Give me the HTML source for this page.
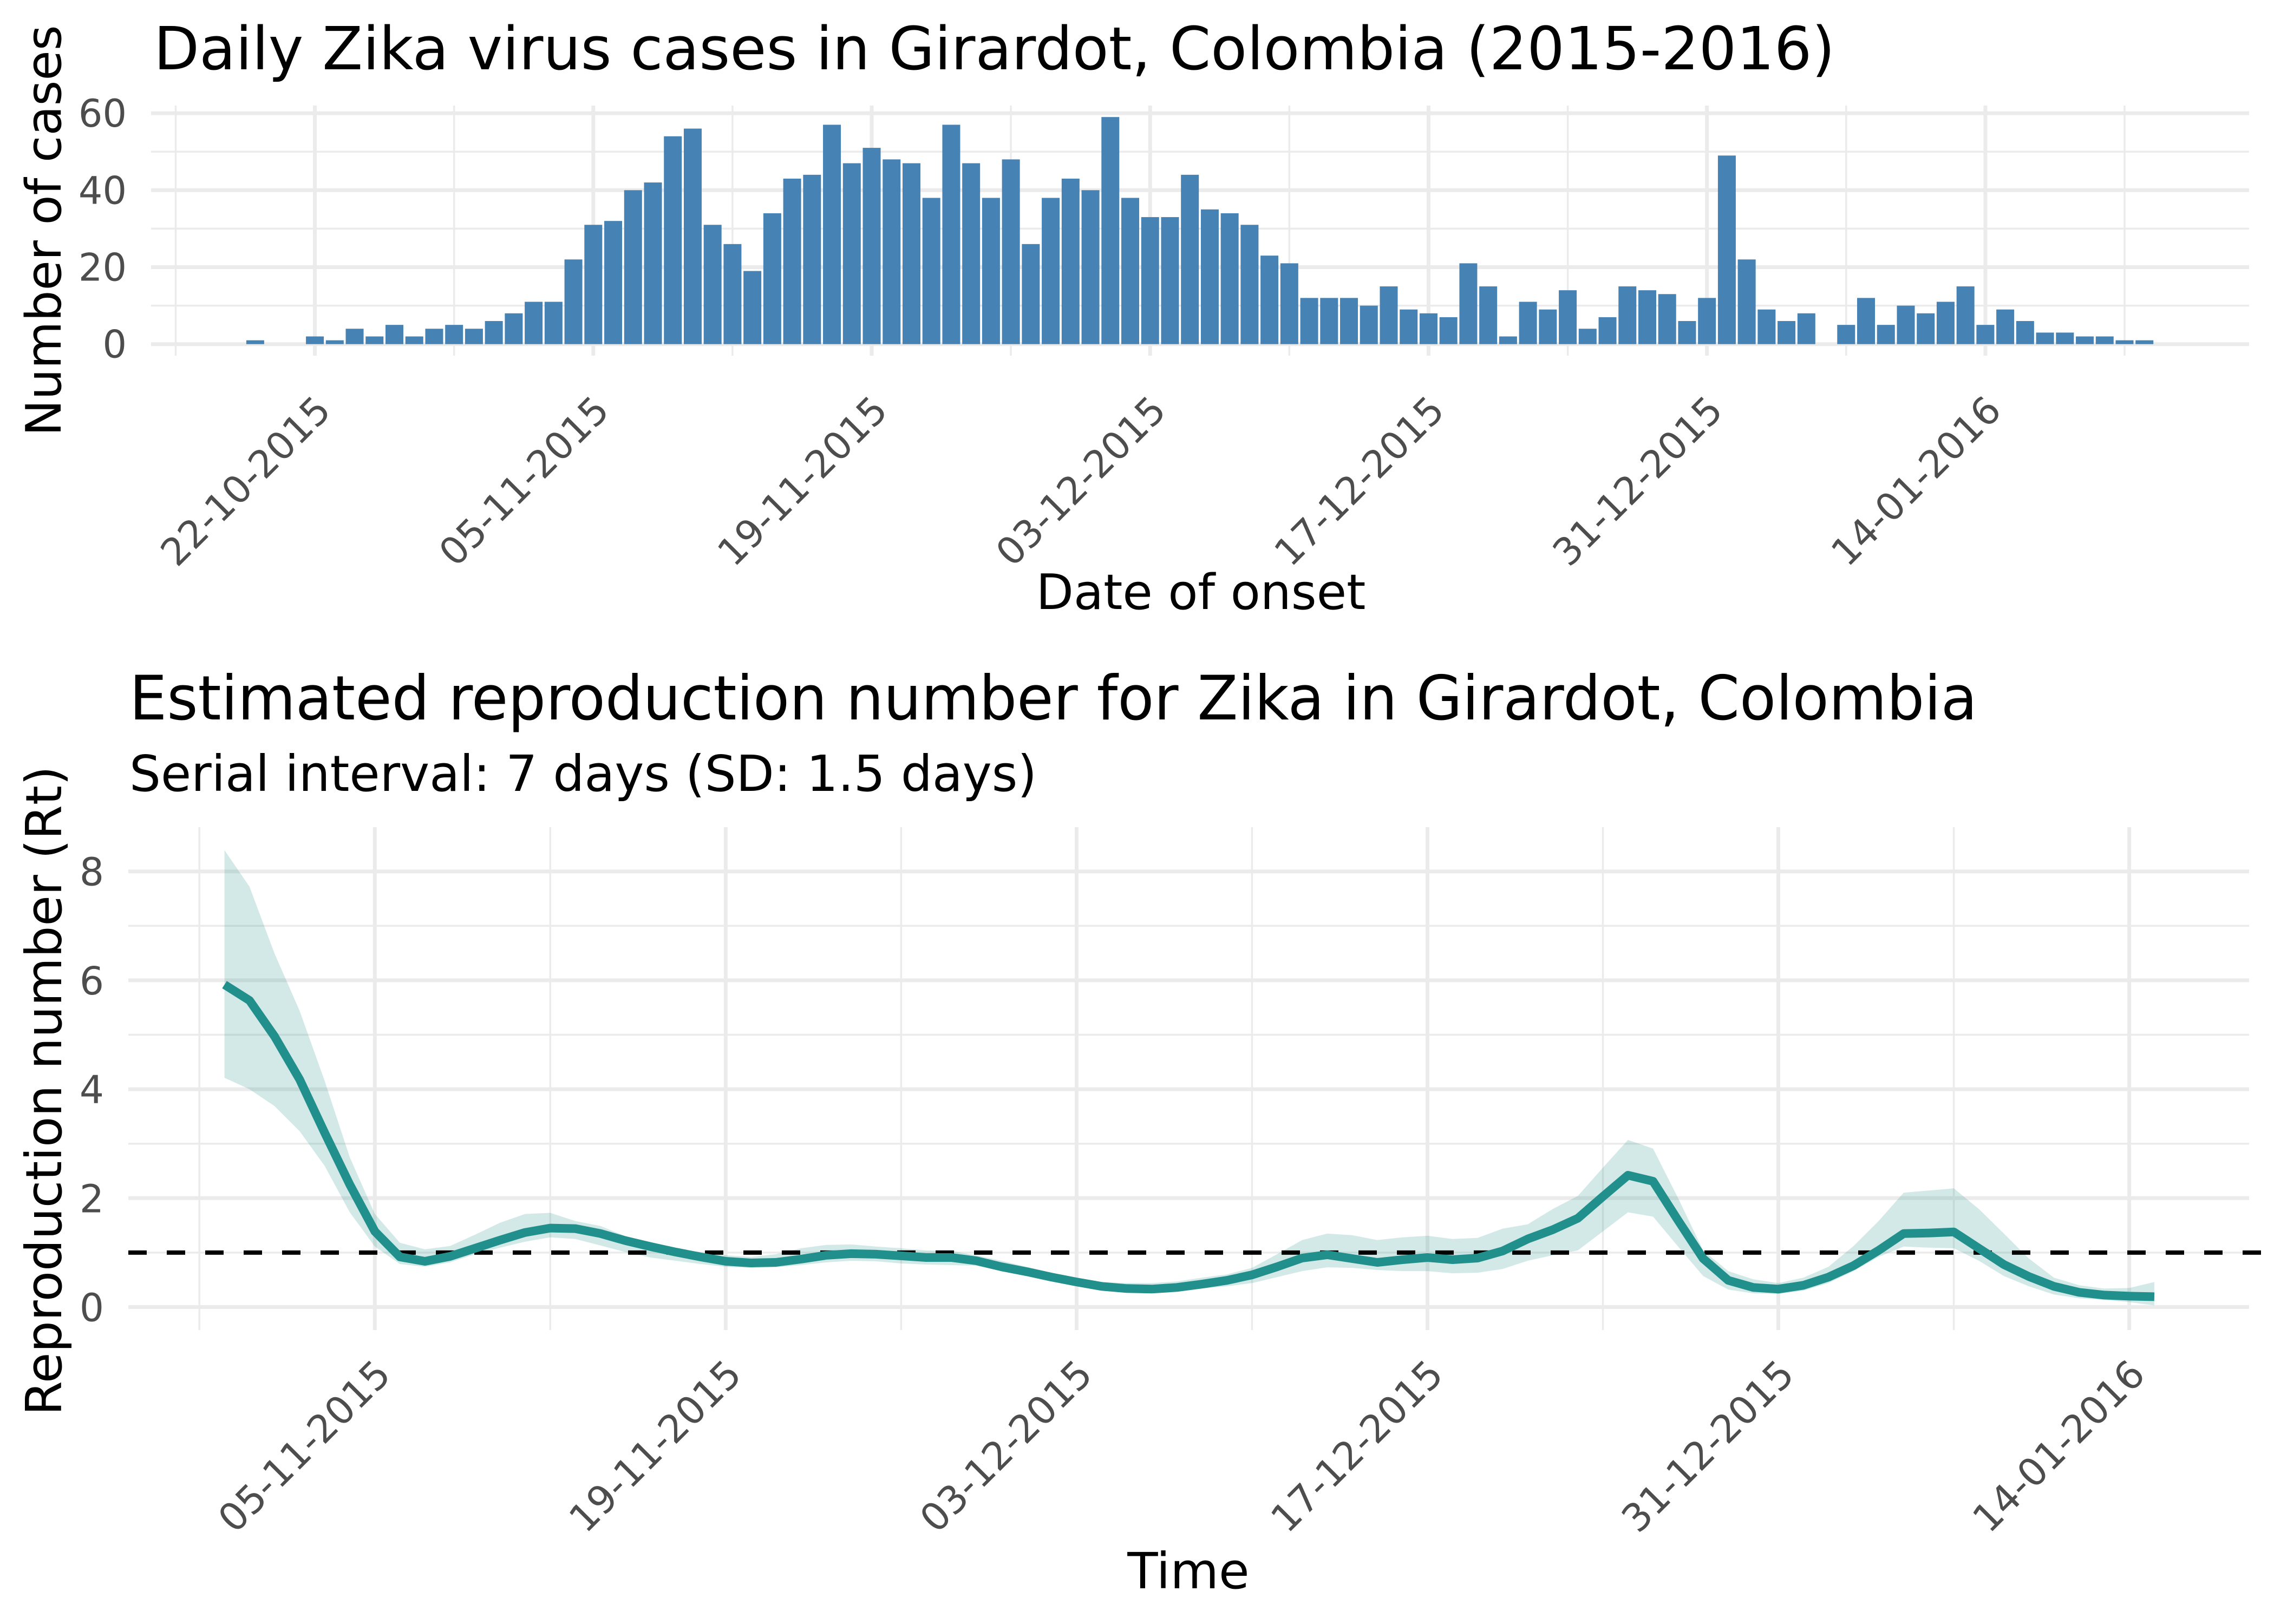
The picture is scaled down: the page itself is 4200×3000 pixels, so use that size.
<!DOCTYPE html>
<html><head><meta charset="utf-8">
<style>
html,body{margin:0;padding:0;background:#fff;}
svg{display:block;}
text{font-family:"DejaVu Sans","Liberation Sans",sans-serif;}
</style></head>
<body>
<svg id="chart" width="4200" height="3000" viewBox="0 0 4200 3000" xmlns="http://www.w3.org/2000/svg">
<rect width="4200" height="3000" fill="#fff"/>
<g id="top-grid"></g>
<g id="top-bars"></g>
<g id="top-axes"></g>
<g id="bot-grid"></g>
<g id="bot-marks"></g>
<g id="bot-axes"></g>
<text x="284" y="128" font-size="110" fill="#000" textLength="3105" lengthAdjust="spacingAndGlyphs">Daily Zika virus cases in Girardot, Colombia (2015-2016)</text>
<text transform="translate(112,426) rotate(-90)" text-anchor="middle" font-size="90" fill="#000">Number of cases</text>
<text x="2218" y="1125" text-anchor="middle" font-size="90" fill="#000">Date of onset</text>
<text x="239" y="1329" font-size="113" fill="#000" textLength="3413" lengthAdjust="spacingAndGlyphs">Estimated reproduction number for Zika in Girardot, Colombia</text>
<text x="239" y="1461" font-size="92" fill="#000" textLength="1676" lengthAdjust="spacingAndGlyphs">Serial interval: 7 days (SD: 1.5 days)</text>
<text transform="translate(113,2015) rotate(-90)" text-anchor="middle" font-size="92" fill="#000">Reproduction number (Rt)</text>
<text x="2195" y="2934" text-anchor="middle" font-size="92" fill="#000">Time</text>
</svg>
<script>
// ---- Cases data (daily from 19-10-2015) ----
const caseStartDate = "2015-10-19";
const caseCounts = [1,0,0,2,1,4,2,5,2,4,5,4,6,8,11,11,22,31,32,40,42,54,56,31,26,19,34,43,44,57,47,51,48,47,38,57,47,38,48,26,38,43,40,59,38,33,33,44,35,34,31,23,21,12,12,12,10,15,9,8,7,21,15,2,11,9,14,4,7,15,14,13,6,12,49,22,9,6,8,0,5,12,5,10,8,11,15,5,9,6,3,3,2,2,1,1];
const caseYTicks = [0,20,40,60];
const caseYMinor = [10,30,50];
const caseXTicks = ["22-10-2015","05-11-2015","19-11-2015","03-12-2015","17-12-2015","31-12-2015","14-01-2016"];
const caseXMinor = ["15-10-2015","29-10-2015","12-11-2015","26-11-2015","10-12-2015","24-12-2015","07-01-2016","21-01-2016"];

// ---- Rt data (daily from 30-10-2015) ----
const rtStartDate = "2015-10-30";
const rtMean = [5.92,5.63,4.97,4.18,3.2,2.25,1.39,0.92,0.84,0.93,1.08,1.23,1.37,1.45,1.44,1.35,1.22,1.11,1.01,0.92,0.84,0.81,0.82,0.88,0.95,0.98,0.97,0.94,0.91,0.91,0.85,0.74,0.65,0.55,0.46,0.38,0.34,0.33,0.36,0.42,0.49,0.59,0.74,0.90,0.96,0.89,0.82,0.87,0.91,0.87,0.90,1.03,1.25,1.42,1.63,2.03,2.42,2.31,1.59,0.89,0.49,0.36,0.33,0.40,0.55,0.76,1.04,1.35,1.36,1.38,1.08,0.78,0.56,0.38,0.27,0.22,0.20,0.19];
const rtUpper = [8.39,7.72,6.49,5.44,4.15,2.75,1.71,1.18,1.06,1.12,1.33,1.55,1.71,1.73,1.58,1.49,1.30,1.17,1.08,0.98,0.95,0.92,0.97,1.08,1.14,1.15,1.11,1.08,1.04,1.03,0.95,0.85,0.74,0.63,0.54,0.46,0.44,0.44,0.47,0.54,0.60,0.72,0.97,1.23,1.35,1.32,1.23,1.28,1.31,1.25,1.27,1.44,1.52,1.80,2.04,2.56,3.07,2.91,2.0,1.04,0.66,0.51,0.44,0.54,0.74,1.12,1.58,2.10,2.14,2.18,1.80,1.35,0.89,0.54,0.40,0.34,0.35,0.46];
const rtLower = [4.21,4.0,3.69,3.23,2.59,1.74,1.11,0.79,0.74,0.82,0.97,1.09,1.20,1.28,1.25,1.13,1.01,0.91,0.85,0.79,0.74,0.72,0.73,0.77,0.82,0.85,0.84,0.80,0.78,0.77,0.76,0.66,0.57,0.49,0.41,0.33,0.28,0.27,0.30,0.34,0.38,0.44,0.55,0.66,0.73,0.72,0.68,0.66,0.66,0.62,0.63,0.70,0.85,0.95,1.04,1.39,1.74,1.66,1.11,0.57,0.32,0.25,0.24,0.30,0.44,0.66,0.92,1.11,1.09,1.08,0.85,0.57,0.38,0.23,0.16,0.13,0.09,0.03];
const rtThreshold = 1;
const rtYTicks = [0,2,4,6,8];
const rtYMinor = [1,3,5,7];
const rtXTicks = ["05-11-2015","19-11-2015","03-12-2015","17-12-2015","31-12-2015","14-01-2016"];
const rtXMinor = ["29-10-2015","12-11-2015","26-11-2015","10-12-2015","24-12-2015","07-01-2016"];

const NS = "http://www.w3.org/2000/svg";
const DAY = 86400000;
const REF = Date.UTC(2015,10,5);
function parseISO(s){const p=s.split("-").map(Number);return Date.UTC(p[0],p[1]-1,p[2]);}
function parseDMY(s){const p=s.split("-").map(Number);return Date.UTC(p[2],p[1]-1,p[0]);}
function dayNum(t){return Math.round((t-REF)/DAY);}
// axis functions
function xTop(d){return 1095.8 + d*36.73;}
function yTop(v){return 635.7 - v*7.11;}
function xBot(d){return 692.3 + d*46.29;}
function yBot(v){return 2414.5 - v*100.6;}

function mk(tag, attrs, parent){const e=document.createElementNS(NS,tag);for(const k in attrs)e.setAttribute(k,attrs[k]);parent.appendChild(e);return e;}

// ---- top panel ----
const tg=document.getElementById('top-grid');
caseYMinor.forEach(v=>{const l=mk('line',{x1:279,x2:4154,y1:yTop(v),y2:yTop(v),stroke:'#ebebeb','stroke-width':3.5},tg);

});
caseXMinor.forEach(s=>{const x=xTop(dayNum(parseDMY(s)));const l=mk('line',{x1:x,x2:x,y1:195,y2:657,stroke:'#ebebeb','stroke-width':3.5},tg);

});
caseYTicks.forEach(v=>{const l=mk('line',{x1:279,x2:4154,y1:yTop(v),y2:yTop(v),stroke:'#ebebeb','stroke-width':7},tg);

});
caseXTicks.forEach(s=>{const x=xTop(dayNum(parseDMY(s)));const l=mk('line',{x1:x,x2:x,y1:195,y2:657,stroke:'#ebebeb','stroke-width':7},tg);

});

const tb=document.getElementById('top-bars');
const c0=dayNum(parseISO(caseStartDate));
caseCounts.forEach((v,i)=>{if(v<=0)return;const x=xTop(c0+i);const r=mk('rect',{x:x-16.5,y:yTop(v),width:33,height:yTop(0)-yTop(v),fill:'#4682B4'},tb);

});

const ta=document.getElementById('top-axes');
caseYTicks.forEach(v=>{const t=mk('text',{x:234,y:yTop(v)+25,'text-anchor':'end','font-size':70,fill:'#4d4d4d'},ta);t.textContent=v;

});
caseXTicks.forEach(s=>{const x=xTop(dayNum(parseDMY(s)))+33;const t=mk('text',{transform:`translate(${x},762) rotate(-45)`,'text-anchor':'end','font-size':70,fill:'#4d4d4d'},ta);t.textContent=s;

});

// ---- bottom panel ----
const bg=document.getElementById('bot-grid');
rtYMinor.forEach(v=>{const l=mk('line',{x1:237,x2:4154,y1:yBot(v),y2:yBot(v),stroke:'#ebebeb','stroke-width':3.5},bg);

});
rtXMinor.forEach(s=>{const x=xBot(dayNum(parseDMY(s)));const l=mk('line',{x1:x,x2:x,y1:1528,y2:2457,stroke:'#ebebeb','stroke-width':3.5},bg);

});
rtYTicks.forEach(v=>{const l=mk('line',{x1:237,x2:4154,y1:yBot(v),y2:yBot(v),stroke:'#ebebeb','stroke-width':7},bg);

});
rtXTicks.forEach(s=>{const x=xBot(dayNum(parseDMY(s)));const l=mk('line',{x1:x,x2:x,y1:1528,y2:2457,stroke:'#ebebeb','stroke-width':7},bg);

});

const bm=document.getElementById('bot-marks');
const r0=dayNum(parseISO(rtStartDate));
let up=rtUpper.map((v,i)=>`${xBot(r0+i).toFixed(1)},${yBot(v).toFixed(1)}`);
let lo=rtLower.map((v,i)=>`${xBot(r0+i).toFixed(1)},${yBot(v).toFixed(1)}`).reverse();
const rib=mk('polygon',{points:up.concat(lo).join(' '),fill:'#21908C','fill-opacity':0.2},bm);


const th=mk('line',{x1:237,x2:4200,y1:yBot(rtThreshold),y2:yBot(rtThreshold),stroke:'#000','stroke-width':8,'stroke-dasharray':'34 37'},bm);


const ln=mk('polyline',{points:rtMean.map((v,i)=>`${xBot(r0+i).toFixed(1)},${yBot(v).toFixed(1)}`).join(' '),fill:'none',stroke:'#21908C','stroke-width':16,'stroke-linejoin':'round'},bm);



const ba=document.getElementById('bot-axes');
rtYTicks.forEach(v=>{const t=mk('text',{x:192,y:yBot(v)+26,'text-anchor':'end','font-size':71,fill:'#4d4d4d'},ba);t.textContent=v;

});
rtXTicks.forEach(s=>{const x=xBot(dayNum(parseDMY(s)))+33;const t=mk('text',{transform:`translate(${x},2543) rotate(-45)`,'text-anchor':'end','font-size':71,fill:'#4d4d4d'},ba);t.textContent=s;

});
</script>
</body></html>
